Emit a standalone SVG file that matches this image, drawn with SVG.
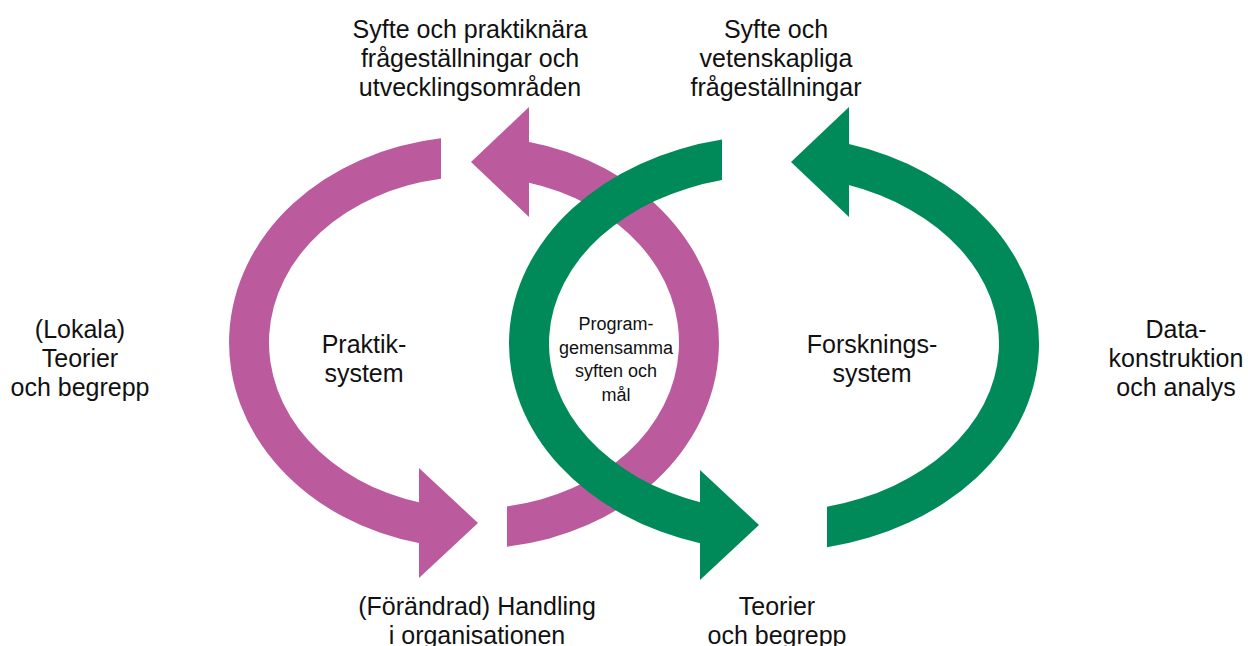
<svg xmlns="http://www.w3.org/2000/svg" width="1248" height="646" viewBox="0 0 1248 646">
  <style>
    .lbl { font-family: "Liberation Sans", Arial, Helvetica, sans-serif; font-size: 25px; fill: #111111; text-anchor: middle; }
    .sml { font-family: "Liberation Sans", Arial, Helvetica, sans-serif; font-size: 18px; fill: #111111; text-anchor: middle; }
    .pink { fill: #BB5A9C; }
    .green { fill: #008A59; }
  </style>
  <rect width="1248" height="646" fill="#ffffff"/>
  <g id="connectors">
    <g id="praktik-cycle">
      <path class="pink" d="M 441 138.37 A 245 206 0 0 0 421 543.6 L 421 502.86 A 205 166 0 0 1 441 178.66 Z"/>
      <polygon class="pink" points="419,468 478,523 419,578"/>
      <path class="pink" d="M 507 546.63 A 245 206 0 0 0 527 141.4 L 527 182.14 A 205 166 0 0 1 507 506.34 Z"/>
      <polygon class="pink" points="529,107 471,162 529,217"/>
    </g>
    <g id="forsknings-cycle">
      <path class="green" d="M 722 139.54 A 265 208 0 0 0 702 543.67 L 702 502.67 A 225 168 0 0 1 722 180.05 Z"/>
      <polygon class="green" points="700,470 759,525 700,580"/>
      <path class="green" d="M 827 547.3 A 265 208 0 0 0 847 143.55 L 847 184.59 A 225 168 0 0 1 827 506.77 Z"/>
      <polygon class="green" points="849,107 791,162 849,217"/>
    </g>
  </g>
  <g id="syfte-praktik">
    <text class="lbl" x="470" y="38">Syfte och praktiknära</text>
    <text class="lbl" x="470" y="67">frågeställningar och</text>
    <text class="lbl" x="470" y="96">utvecklingsområden</text>
  </g>
  <g id="syfte-vetenskap">
    <text class="lbl" x="776" y="38">Syfte och</text>
    <text class="lbl" x="776" y="67">vetenskapliga</text>
    <text class="lbl" x="776" y="96">frågeställningar</text>
  </g>
  <g id="lokala-teorier">
    <text class="lbl" x="80" y="338">(Lokala)</text>
    <text class="lbl" x="80" y="367">Teorier</text>
    <text class="lbl" x="80" y="396">och begrepp</text>
  </g>
  <g id="datakonstruktion">
    <text class="lbl" x="1176" y="338">Data-</text>
    <text class="lbl" x="1176" y="367">konstruktion</text>
    <text class="lbl" x="1176" y="396">och analys</text>
  </g>
  <g id="handling">
    <text class="lbl" x="477" y="615">(Förändrad) Handling</text>
    <text class="lbl" x="477" y="644">i organisationen</text>
  </g>
  <g id="teorier">
    <text class="lbl" x="777" y="615">Teorier</text>
    <text class="lbl" x="777" y="644">och begrepp</text>
  </g>
  <g id="praktiksystem">
    <text class="lbl" x="364" y="353">Praktik-</text>
    <text class="lbl" x="364" y="382">system</text>
  </g>
  <g id="forskningssystem">
    <text class="lbl" x="872" y="353">Forsknings-</text>
    <text class="lbl" x="872" y="382">system</text>
  </g>
  <g id="programgemensamma">
    <text class="sml" x="616" y="330">Program-</text>
    <text class="sml" x="616" y="354">gemensamma</text>
    <text class="sml" x="616" y="377">syften och</text>
    <text class="sml" x="616" y="401">mål</text>
  </g>
</svg>
